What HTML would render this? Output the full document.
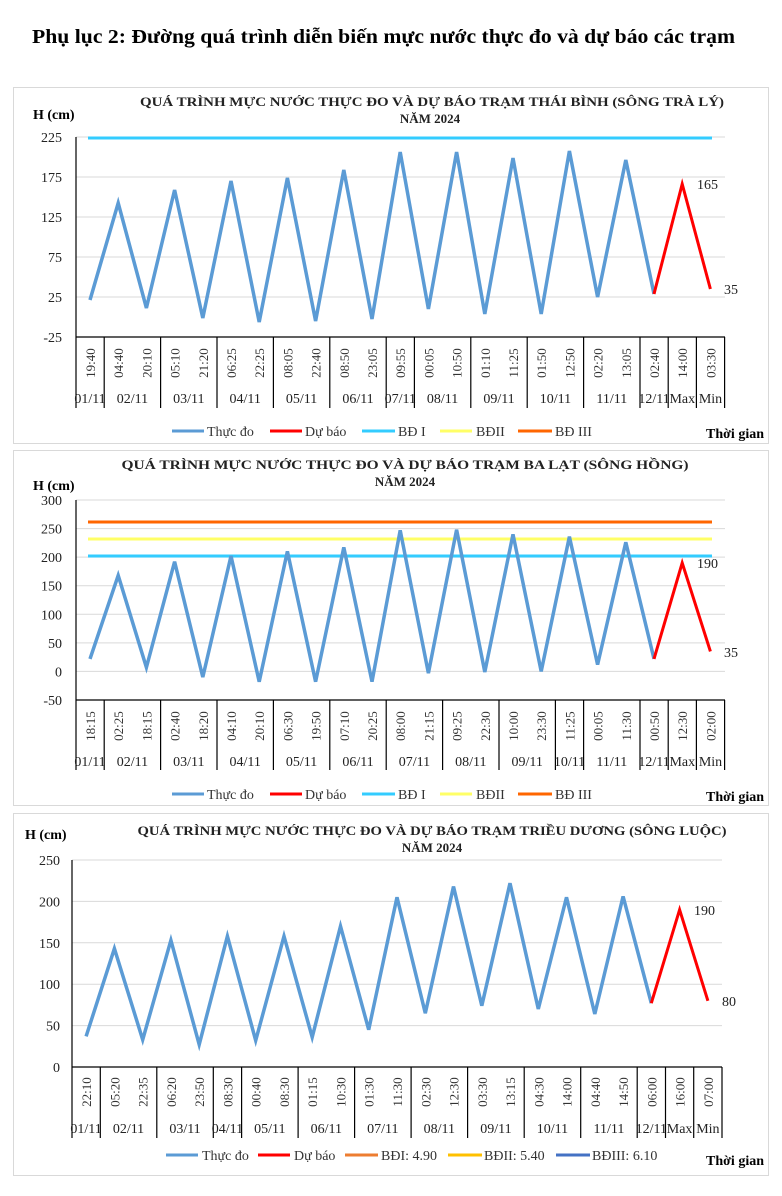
<!DOCTYPE html>
<html><head><meta charset="utf-8"><style>
body{margin:0;background:#fff}
svg{display:block;font-family:"Liberation Serif",serif}
.t{font-size:13px;fill:#333}
.tl{font-size:14px;fill:#222}
.ti{font-size:13px;font-weight:bold;fill:#222}
.lg{font-size:14px;fill:#333}
.gr{stroke:#d9d9d9;stroke-width:1}
.ax{stroke:#000;stroke-width:1.2}
</style></head><body>
<svg width="782" height="1196" viewBox="0 0 782 1196" xmlns="http://www.w3.org/2000/svg">
<text x="32" y="43" font-size="20" font-weight="bold" textLength="703" lengthAdjust="spacingAndGlyphs">Phụ lục 2: Đường quá trình diễn biến mực nước thực đo và dự báo các trạm</text>

<!-- ============ CHART 1 ============ -->
<rect x="13.5" y="87.5" width="755" height="356" fill="none" stroke="#d9d9d9"/>
<text class="ti" x="432" y="106" text-anchor="middle" textLength="584" lengthAdjust="spacingAndGlyphs">QUÁ TRÌNH MỰC NƯỚC THỰC ĐO VÀ DỰ BÁO TRẠM THÁI BÌNH (SÔNG TRÀ LÝ)</text>
<text class="ti" x="430" y="123" text-anchor="middle">NĂM 2024</text>
<text x="33" y="119" font-size="14" font-weight="bold">H (cm)</text>
<g class="gr"><line x1="76" x2="725" y1="137" y2="137"/><line x1="76" x2="725" y1="177" y2="177"/><line x1="76" x2="725" y1="217" y2="217"/><line x1="76" x2="725" y1="257" y2="257"/><line x1="76" x2="725" y1="297" y2="297"/></g>
<g class="tl" text-anchor="end"><text x="62" y="142">225</text><text x="62" y="182">175</text><text x="62" y="222">125</text><text x="62" y="262">75</text><text x="62" y="302">25</text><text x="62" y="342">-25</text></g>
<line x1="88" x2="712" y1="138" y2="138" stroke="#33CCFF" stroke-width="3"/>
<polyline fill="none" stroke="#5B9BD5" stroke-width="3.5" stroke-linejoin="miter" points="90,300 118.2,203 146.4,308 174.6,190 202.8,318 231,181 259.2,322 287.4,178 315.6,321 343.8,170 372,319 400.2,152 428.4,309 456.6,152 484.8,314 513,158 541.2,314 569.4,151 597.6,297 625.8,160 654,294"/>
<polyline fill="none" stroke="#FF0000" stroke-width="3" points="654,294 682.2,184 710.4,289"/>
<text class="tl" x="697" y="189">165</text><text class="tl" x="724" y="294">35</text>
<g class="ax"><line x1="76" y1="137" x2="76" y2="408"/><line x1="76" y1="337" x2="725" y2="337"/>
<line x1="104.2" y1="337" x2="104.2" y2="408"/><line x1="160.6" y1="337" x2="160.6" y2="408"/><line x1="217" y1="337" x2="217" y2="408"/><line x1="273.4" y1="337" x2="273.4" y2="408"/><line x1="329.8" y1="337" x2="329.8" y2="408"/><line x1="386.2" y1="337" x2="386.2" y2="408"/><line x1="414.4" y1="337" x2="414.4" y2="408"/><line x1="470.8" y1="337" x2="470.8" y2="408"/><line x1="527.2" y1="337" x2="527.2" y2="408"/><line x1="583.6" y1="337" x2="583.6" y2="408"/><line x1="640" y1="337" x2="640" y2="408"/><line x1="668.2" y1="337" x2="668.2" y2="408"/><line x1="696.4" y1="337" x2="696.4" y2="408"/><line x1="724.6" y1="337" x2="724.6" y2="408"/></g>
<g class="t" text-anchor="middle">
<text transform="translate(95,363) rotate(-90)">19:40</text><text transform="translate(123.2,363) rotate(-90)">04:40</text><text transform="translate(151.4,363) rotate(-90)">20:10</text><text transform="translate(179.6,363) rotate(-90)">05:10</text><text transform="translate(207.8,363) rotate(-90)">21:20</text><text transform="translate(236,363) rotate(-90)">06:25</text><text transform="translate(264.2,363) rotate(-90)">22:25</text><text transform="translate(292.4,363) rotate(-90)">08:05</text><text transform="translate(320.6,363) rotate(-90)">22:40</text><text transform="translate(348.8,363) rotate(-90)">08:50</text><text transform="translate(377,363) rotate(-90)">23:05</text><text transform="translate(405.2,363) rotate(-90)">09:55</text><text transform="translate(433.4,363) rotate(-90)">00:05</text><text transform="translate(461.6,363) rotate(-90)">10:50</text><text transform="translate(489.8,363) rotate(-90)">01:10</text><text transform="translate(518,363) rotate(-90)">11:25</text><text transform="translate(546.2,363) rotate(-90)">01:50</text><text transform="translate(574.4,363) rotate(-90)">12:50</text><text transform="translate(602.6,363) rotate(-90)">02:20</text><text transform="translate(630.8,363) rotate(-90)">13:05</text><text transform="translate(659,363) rotate(-90)">02:40</text><text transform="translate(687.2,363) rotate(-90)">14:00</text><text transform="translate(715.4,363) rotate(-90)">03:30</text>
</g>
<g class="tl" text-anchor="middle">
<text x="90" y="403">01/11</text><text x="132.4" y="403">02/11</text><text x="188.8" y="403">03/11</text><text x="245.2" y="403">04/11</text><text x="301.6" y="403">05/11</text><text x="358" y="403">06/11</text><text x="400.3" y="403">07/11</text><text x="442.6" y="403">08/11</text><text x="499" y="403">09/11</text><text x="555.4" y="403">10/11</text><text x="611.8" y="403">11/11</text><text x="654.1" y="403">12/11</text><text x="682.3" y="403">Max</text><text x="710.5" y="403">Min</text>
</g>
<g class="lg">
<line x1="172" x2="204" y1="431" y2="431" stroke="#5B9BD5" stroke-width="3"/><text x="207" y="436">Thực đo</text>
<line x1="270" x2="302" y1="431" y2="431" stroke="#FF0000" stroke-width="3"/><text x="305" y="436">Dự báo</text>
<line x1="362" x2="395" y1="431" y2="431" stroke="#33CCFF" stroke-width="3"/><text x="398" y="436">BĐ I</text>
<line x1="440" x2="472" y1="431" y2="431" stroke="#FFFF66" stroke-width="3"/><text x="476" y="436">BĐII</text>
<line x1="518" x2="552" y1="431" y2="431" stroke="#FF6600" stroke-width="3"/><text x="555" y="436">BĐ III</text>
</g>
<text x="764" y="438" text-anchor="end" font-size="14" font-weight="bold">Thời gian</text>

<!-- ============ CHART 2 ============ -->
<rect x="13.5" y="450.5" width="755" height="355" fill="none" stroke="#d9d9d9"/>
<text class="ti" x="405" y="469" text-anchor="middle" textLength="567" lengthAdjust="spacingAndGlyphs">QUÁ TRÌNH MỰC NƯỚC THỰC ĐO VÀ DỰ BÁO TRẠM BA LẠT (SÔNG HỒNG)</text>
<text class="ti" x="405" y="486" text-anchor="middle">NĂM 2024</text>
<text x="33" y="490" font-size="14" font-weight="bold">H (cm)</text>
<g class="gr"><line x1="76" x2="725" y1="500" y2="500"/><line x1="76" x2="725" y1="528.6" y2="528.6"/><line x1="76" x2="725" y1="557.1" y2="557.1"/><line x1="76" x2="725" y1="585.7" y2="585.7"/><line x1="76" x2="725" y1="614.3" y2="614.3"/><line x1="76" x2="725" y1="642.9" y2="642.9"/><line x1="76" x2="725" y1="671.4" y2="671.4"/></g>
<g class="tl" text-anchor="end"><text x="62" y="505">300</text><text x="62" y="533.6">250</text><text x="62" y="562">200</text><text x="62" y="590.7">150</text><text x="62" y="619.3">100</text><text x="62" y="647.9">50</text><text x="62" y="676.4">0</text><text x="62" y="705">-50</text></g>
<line x1="88" x2="712" y1="522" y2="522" stroke="#FF6600" stroke-width="3"/>
<line x1="88" x2="712" y1="539" y2="539" stroke="#FFFF66" stroke-width="3"/>
<line x1="88" x2="712" y1="556" y2="556" stroke="#33CCFF" stroke-width="3"/>
<polyline fill="none" stroke="#5B9BD5" stroke-width="3.5" points="90,658.9 118.2,575.4 146.4,667.4 174.6,561.7 202.8,677.1 231,556 259.2,681.7 287.4,551.4 315.6,681.7 343.8,547.4 372,681.7 400.2,530.3 428.4,673.1 456.6,529.7 484.8,672 513,534.3 541.2,671.4 569.4,536.6 597.6,664.6 625.8,542.3 654,658.9"/>
<polyline fill="none" stroke="#FF0000" stroke-width="3" points="654,658.9 682.2,562.9 710.4,651.4"/>
<text class="tl" x="697" y="568">190</text><text class="tl" x="724" y="657">35</text>
<g class="ax"><line x1="76" y1="500" x2="76" y2="770"/><line x1="76" y1="700" x2="725" y2="700"/>
<line x1="104.2" y1="700" x2="104.2" y2="770"/><line x1="160.6" y1="700" x2="160.6" y2="770"/><line x1="217" y1="700" x2="217" y2="770"/><line x1="273.4" y1="700" x2="273.4" y2="770"/><line x1="329.8" y1="700" x2="329.8" y2="770"/><line x1="386.2" y1="700" x2="386.2" y2="770"/><line x1="442.6" y1="700" x2="442.6" y2="770"/><line x1="499" y1="700" x2="499" y2="770"/><line x1="555.4" y1="700" x2="555.4" y2="770"/><line x1="583.6" y1="700" x2="583.6" y2="770"/><line x1="640" y1="700" x2="640" y2="770"/><line x1="668.2" y1="700" x2="668.2" y2="770"/><line x1="696.4" y1="700" x2="696.4" y2="770"/><line x1="724.6" y1="700" x2="724.6" y2="770"/></g>
<g class="t" text-anchor="middle">
<text transform="translate(95,726) rotate(-90)">18:15</text><text transform="translate(123.2,726) rotate(-90)">02:25</text><text transform="translate(151.4,726) rotate(-90)">18:15</text><text transform="translate(179.6,726) rotate(-90)">02:40</text><text transform="translate(207.8,726) rotate(-90)">18:20</text><text transform="translate(236,726) rotate(-90)">04:10</text><text transform="translate(264.2,726) rotate(-90)">20:10</text><text transform="translate(292.4,726) rotate(-90)">06:30</text><text transform="translate(320.6,726) rotate(-90)">19:50</text><text transform="translate(348.8,726) rotate(-90)">07:10</text><text transform="translate(377,726) rotate(-90)">20:25</text><text transform="translate(405.2,726) rotate(-90)">08:00</text><text transform="translate(433.4,726) rotate(-90)">21:15</text><text transform="translate(461.6,726) rotate(-90)">09:25</text><text transform="translate(489.8,726) rotate(-90)">22:30</text><text transform="translate(518,726) rotate(-90)">10:00</text><text transform="translate(546.2,726) rotate(-90)">23:30</text><text transform="translate(574.4,726) rotate(-90)">11:25</text><text transform="translate(602.6,726) rotate(-90)">00:05</text><text transform="translate(630.8,726) rotate(-90)">11:30</text><text transform="translate(659,726) rotate(-90)">00:50</text><text transform="translate(687.2,726) rotate(-90)">12:30</text><text transform="translate(715.4,726) rotate(-90)">02:00</text>
</g>
<g class="tl" text-anchor="middle">
<text x="90" y="766">01/11</text><text x="132.4" y="766">02/11</text><text x="188.8" y="766">03/11</text><text x="245.2" y="766">04/11</text><text x="301.6" y="766">05/11</text><text x="358" y="766">06/11</text><text x="414.4" y="766">07/11</text><text x="470.8" y="766">08/11</text><text x="527.2" y="766">09/11</text><text x="569.5" y="766">10/11</text><text x="611.8" y="766">11/11</text><text x="654.1" y="766">12/11</text><text x="682.3" y="766">Max</text><text x="710.5" y="766">Min</text>
</g>
<g class="lg">
<line x1="172" x2="204" y1="794" y2="794" stroke="#5B9BD5" stroke-width="3"/><text x="207" y="799">Thực đo</text>
<line x1="270" x2="302" y1="794" y2="794" stroke="#FF0000" stroke-width="3"/><text x="305" y="799">Dự báo</text>
<line x1="362" x2="395" y1="794" y2="794" stroke="#33CCFF" stroke-width="3"/><text x="398" y="799">BĐ I</text>
<line x1="440" x2="472" y1="794" y2="794" stroke="#FFFF66" stroke-width="3"/><text x="476" y="799">BĐII</text>
<line x1="518" x2="552" y1="794" y2="794" stroke="#FF6600" stroke-width="3"/><text x="555" y="799">BĐ III</text>
</g>
<text x="764" y="801" text-anchor="end" font-size="14" font-weight="bold">Thời gian</text>

<!-- ============ CHART 3 ============ -->
<rect x="13.5" y="813.5" width="755" height="362" fill="none" stroke="#d9d9d9"/>
<text class="ti" x="432" y="835" text-anchor="middle" textLength="589" lengthAdjust="spacingAndGlyphs">QUÁ TRÌNH MỰC NƯỚC THỰC ĐO VÀ DỰ BÁO TRẠM TRIỀU DƯƠNG (SÔNG LUỘC)</text>
<text class="ti" x="432" y="852" text-anchor="middle">NĂM 2024</text>
<text x="25" y="839" font-size="14" font-weight="bold">H (cm)</text>
<g class="gr"><line x1="72" x2="722" y1="860" y2="860"/><line x1="72" x2="722" y1="901.4" y2="901.4"/><line x1="72" x2="722" y1="942.8" y2="942.8"/><line x1="72" x2="722" y1="984.2" y2="984.2"/><line x1="72" x2="722" y1="1025.6" y2="1025.6"/></g>
<g class="tl" text-anchor="end"><text x="60" y="865">250</text><text x="60" y="906.4">200</text><text x="60" y="947.8">150</text><text x="60" y="989.2">100</text><text x="60" y="1030.6">50</text><text x="60" y="1072">0</text></g>
<polyline fill="none" stroke="#5B9BD5" stroke-width="3.5" points="86.1,1036.4 114.4,948.6 142.7,1039.7 170.9,940.3 199.2,1044.6 227.4,936.2 255.7,1040.5 284,936.2 312.2,1037.2 340.5,926.2 368.7,1029.7 397,897.3 425.3,1013.2 453.5,886.5 481.8,1005.7 510,883.2 538.3,1009 566.5,897.3 594.8,1014 623.1,896.4 651.3,1003.2"/>
<polyline fill="none" stroke="#FF0000" stroke-width="3" points="651.3,1003.2 679.6,909.7 707.9,1000.8"/>
<text class="tl" x="694" y="915">190</text><text class="tl" x="722" y="1006">80</text>
<g class="ax"><line x1="72" y1="860" x2="72" y2="1138"/><line x1="72" y1="1067" x2="722" y2="1067"/>
<line x1="100.3" y1="1067" x2="100.3" y2="1138"/><line x1="156.8" y1="1067" x2="156.8" y2="1138"/><line x1="213.3" y1="1067" x2="213.3" y2="1138"/><line x1="241.6" y1="1067" x2="241.6" y2="1138"/><line x1="298.1" y1="1067" x2="298.1" y2="1138"/><line x1="354.6" y1="1067" x2="354.6" y2="1138"/><line x1="411.1" y1="1067" x2="411.1" y2="1138"/><line x1="467.6" y1="1067" x2="467.6" y2="1138"/><line x1="524.2" y1="1067" x2="524.2" y2="1138"/><line x1="580.7" y1="1067" x2="580.7" y2="1138"/><line x1="637.2" y1="1067" x2="637.2" y2="1138"/><line x1="665.5" y1="1067" x2="665.5" y2="1138"/><line x1="693.7" y1="1067" x2="693.7" y2="1138"/><line x1="722" y1="1067" x2="722" y2="1138"/></g>
<g class="t" text-anchor="middle">
<text transform="translate(91.1,1092) rotate(-90)">22:10</text><text transform="translate(119.4,1092) rotate(-90)">05:20</text><text transform="translate(147.7,1092) rotate(-90)">22:35</text><text transform="translate(175.9,1092) rotate(-90)">06:20</text><text transform="translate(204.2,1092) rotate(-90)">23:50</text><text transform="translate(232.4,1092) rotate(-90)">08:30</text><text transform="translate(260.7,1092) rotate(-90)">00:40</text><text transform="translate(289,1092) rotate(-90)">08:30</text><text transform="translate(317.2,1092) rotate(-90)">01:15</text><text transform="translate(345.5,1092) rotate(-90)">10:30</text><text transform="translate(373.7,1092) rotate(-90)">01:30</text><text transform="translate(402,1092) rotate(-90)">11:30</text><text transform="translate(430.3,1092) rotate(-90)">02:30</text><text transform="translate(458.5,1092) rotate(-90)">12:30</text><text transform="translate(486.8,1092) rotate(-90)">03:30</text><text transform="translate(515,1092) rotate(-90)">13:15</text><text transform="translate(543.3,1092) rotate(-90)">04:30</text><text transform="translate(571.5,1092) rotate(-90)">14:00</text><text transform="translate(599.8,1092) rotate(-90)">04:40</text><text transform="translate(628.1,1092) rotate(-90)">14:50</text><text transform="translate(656.3,1092) rotate(-90)">06:00</text><text transform="translate(684.6,1092) rotate(-90)">16:00</text><text transform="translate(712.9,1092) rotate(-90)">07:00</text>
</g>
<g class="tl" text-anchor="middle">
<text x="86.1" y="1133">01/11</text><text x="128.5" y="1133">02/11</text><text x="185" y="1133">03/11</text><text x="227.4" y="1133">04/11</text><text x="269.8" y="1133">05/11</text><text x="326.3" y="1133">06/11</text><text x="382.8" y="1133">07/11</text><text x="439.3" y="1133">08/11</text><text x="495.9" y="1133">09/11</text><text x="552.4" y="1133">10/11</text><text x="608.9" y="1133">11/11</text><text x="651.3" y="1133">12/11</text><text x="679.6" y="1133">Max</text><text x="707.9" y="1133">Min</text>
</g>
<g class="lg">
<line x1="166" x2="198" y1="1155" y2="1155" stroke="#5B9BD5" stroke-width="3"/><text x="202" y="1160">Thực đo</text>
<line x1="258" x2="290" y1="1155" y2="1155" stroke="#FF0000" stroke-width="3"/><text x="294" y="1160">Dự báo</text>
<line x1="345" x2="378" y1="1155" y2="1155" stroke="#ED7D31" stroke-width="3"/><text x="381" y="1160">BĐI: 4.90</text>
<line x1="448" x2="482" y1="1155" y2="1155" stroke="#FFC000" stroke-width="3"/><text x="484" y="1160">BĐII: 5.40</text>
<line x1="556" x2="590" y1="1155" y2="1155" stroke="#4472C4" stroke-width="3"/><text x="592" y="1160">BĐIII: 6.10</text>
</g>
<text x="764" y="1165" text-anchor="end" font-size="14" font-weight="bold">Thời gian</text>
</svg>
</body></html>
